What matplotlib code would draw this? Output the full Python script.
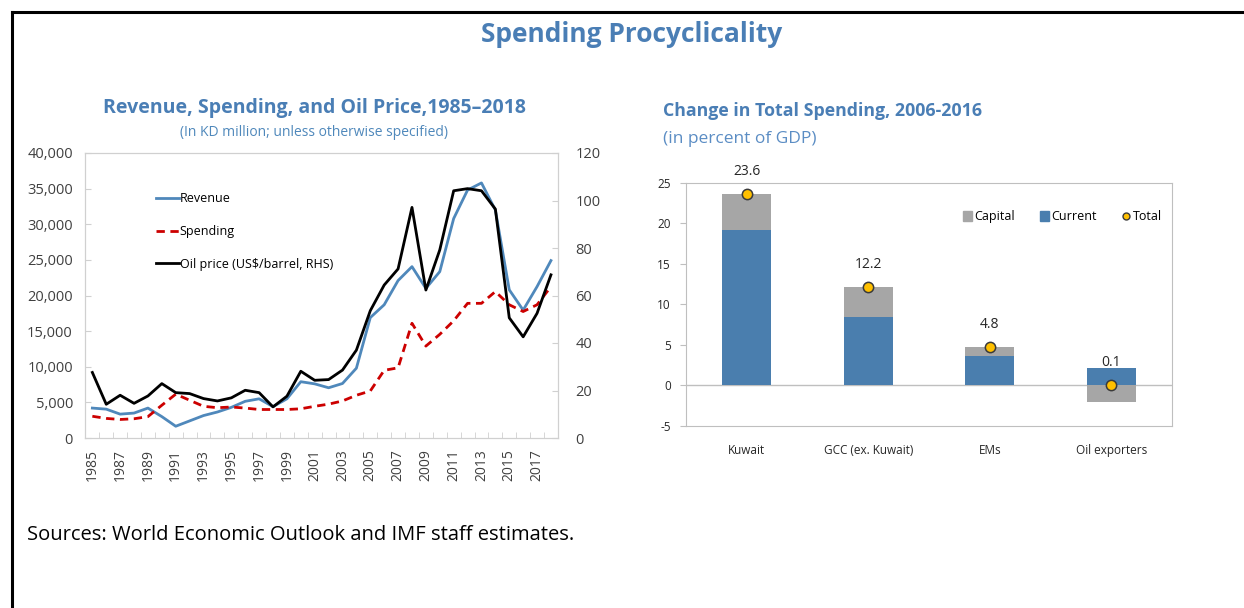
import numpy as np
import matplotlib
matplotlib.use('Agg')
import matplotlib.pyplot as plt
from matplotlib.lines import Line2D
from matplotlib.patches import Patch
from matplotlib.ticker import FuncFormatter

plt.rcParams['font.family'] = ['Open Sans', 'DejaVu Sans']
plt.rcParams['axes.unicode_minus'] = False

# left panel data
years = list(range(1985, 2019))
revenue = [4200, 4050, 3350, 3500, 4200, 3000, 1650, 2400, 3150, 3650,
           4300, 5150, 5500, 4400, 5500, 7900, 7600, 7050, 7650, 9800,
           16900, 18700, 22100, 24050, 21000, 23350, 30800, 34800, 35800, 32000,
           20800, 17950, 21250, 24900]
spending = [3050, 2750, 2600, 2700, 3000, 4600, 6150, 5300, 4450, 4250,
            4350, 4200, 4000, 4000, 4000, 4100, 4450, 4750, 5200, 6000,
            6600, 9500, 9850, 16100, 12900, 14550, 16450, 18900, 18900, 20550,
            18700, 17750, 18700, 21250]
oil_price = [27.6, 14.2, 18.0, 14.6, 17.7, 22.9, 19.1, 18.7, 16.6, 15.6,
             16.9, 20.1, 19.1, 13.1, 17.6, 28.1, 24.3, 24.6, 28.6, 37.0,
             53.6, 64.4, 71.2, 97.1, 62.3, 79.2, 104.1, 105.0, 104.1, 96.4,
             50.6, 42.6, 52.5, 68.7]

# right panel data
regions = ['Kuwait', 'GCC (ex. Kuwait)', 'EMs', 'Oil exporters']
current = [19.2, 8.5, 3.6, 2.2]
capital = [4.4, 3.7, 1.2, -2.1]
total = [23.6, 12.2, 4.8, 0.1]

blue_title = '#4A7EB5'
blue_line = '#4F88BB'
bar_blue = '#4A7EAE'
grey = '#A6A6A6'
red = '#CC0000'
tick_col = '#404040'
spine_col = '#D0D0D0'

fig = plt.figure(figsize=(12.44, 6.08), dpi=100)

# frame around the figure (left and top edges)
fig.add_artist(Line2D([12/1244, 12/1244], [0, 1 - 12/608], transform=fig.transFigure,
                      color='black', lw=2.2, solid_capstyle='projecting'))
fig.add_artist(Line2D([12/1244, 1], [1 - 12/608, 1 - 12/608], transform=fig.transFigure,
                      color='black', lw=2.2, solid_capstyle='projecting'))

fig.text(632/1244, 1 - 35/608, 'Spending Procyclicality', ha='center', va='center',
         fontsize=19, fontweight='bold', color=blue_title)
fig.text(27/1244, 1 - 535/608, 'Sources: World Economic Outlook and IMF staff estimates.',
         ha='left', va='center', fontsize=14.5, color='black')

# ---- left panel
L, R, T, B = 85.4, 557.9, 153, 438
ax = fig.add_axes([L/1244, 1 - B/608, (R - L)/1244, (B - T)/608])
x = np.arange(len(years))
ax.plot(x, revenue, color=blue_line, lw=2.0, label='Revenue', zorder=3)
ax.plot(x, spending, color=red, lw=2.0, ls=(0, (3, 2)), label='Spending', zorder=3)
ax2 = ax.twinx()
ax2.plot(x, oil_price, color='black', lw=2.0, zorder=4)

ax.set_xlim(-0.5, len(years) - 0.5)
ax.set_ylim(0, 40000)
ax.set_yticks(range(0, 40001, 5000))
ax.yaxis.set_major_formatter(FuncFormatter(lambda v, p: f'{int(v):,}'))
ax2.set_ylim(0, 120)
ax2.set_yticks(range(0, 121, 20))

ax.set_xticks(x[::2])
ax.set_xticklabels([str(y) for y in years[::2]], rotation=90)
ax.set_xticks(np.arange(-0.5, len(years), 1), minor=True)
ax.tick_params(axis='x', which='major', length=0, pad=8, labelsize=10, labelcolor=tick_col)
ax.tick_params(axis='x', which='minor', direction='in', length=4, color=spine_col)
ax.tick_params(axis='y', direction='in', length=4, color=spine_col, pad=9,
               labelsize=10.5, labelcolor=tick_col)
ax2.tick_params(axis='y', direction='in', length=4, color=spine_col, pad=12.5,
                labelsize=10.5, labelcolor=tick_col)
for a in (ax, ax2):
    for s in a.spines.values():
        s.set_color(spine_col)

fig.text(314/1244, 1 - 108/608, 'Revenue, Spending, and Oil Price,1985\u20132018',
         ha='center', va='center', fontsize=14, fontweight='bold', color=blue_title)
fig.text(314/1244, 1 - 132/608, '(In KD million; unless otherwise specified)',
         ha='center', va='center', fontsize=10, color=blue_line)

handles = [Line2D([], [], color=blue_line, lw=2.0),
           Line2D([], [], color=red, lw=2.0, ls=(0, (3, 2))),
           Line2D([], [], color='black', lw=2.0)]
ax.legend(handles, ['Revenue', 'Spending', 'Oil price (US$/barrel, RHS)'],
          loc='upper left', bbox_to_anchor=(0.139, 0.88), frameon=False,
          fontsize=9, handlelength=1.8, handletextpad=0.1, labelspacing=1.58,
          borderaxespad=0)

# ---- right panel
L2, R2, T2, B2 = 686, 1172, 182.7, 426
bx = fig.add_axes([L2/1244, 1 - B2/608, (R2 - L2)/1244, (B2 - T2)/608])
pos = np.arange(len(regions))
cur = np.array(current)
cap = np.array(capital)
cap_bottom = np.where(cap >= 0, cur, 0)
bx.bar(pos, cur, width=0.4, color=bar_blue, label='Current', zorder=2)
bx.bar(pos, cap, width=0.4, bottom=cap_bottom, color=grey, label='Capital', zorder=2)
bx.axhline(0, color='#BFBFBF', lw=1, zorder=1)
bx.scatter(pos, total, s=55, color='#FFC000', edgecolor='#3A3A3A', linewidth=1.1,
           zorder=4, label='Total')
for p, t in zip(pos, total):
    bx.annotate(f'{t:.1f}', (p, t), xytext=(0, 16), textcoords='offset points',
                ha='center', va='center', fontsize=10, color='#262626',
                annotation_clip=False)

bx.set_xlim(-0.5, len(regions) - 0.5)
bx.set_ylim(-5, 25)
bx.set_yticks(range(-5, 26, 5))
bx.set_xticks(pos)
bx.set_xticklabels(regions)
bx.tick_params(axis='x', length=0, pad=13, labelsize=8.5, labelcolor='#262626')
bx.tick_params(axis='y', length=4, color='#BFBFBF', pad=7, labelsize=8.5,
               labelcolor='#262626')
for s in bx.spines.values():
    s.set_color('#BFBFBF')

fig.text(663/1244, 1 - 111/608, 'Change in Total Spending, 2006-2016', ha='left',
         va='center', fontsize=12.8, fontweight='bold', color=blue_title)
fig.text(663/1244, 1 - 139/608, '(in percent of GDP)', ha='left', va='center',
         fontsize=12.5, color='#5B8DC4')

leg_handles = [Patch(color=grey), Patch(color=bar_blue),
               Line2D([], [], ls='none', marker='o', markersize=5,
                      markerfacecolor='#FFC000', markeredgecolor='#3A3A3A')]
bx.legend(leg_handles, ['Capital', 'Current', 'Total'], ncol=3, loc='center right',
          bbox_to_anchor=(0.99, 0.86), frameon=False, fontsize=9,
          handlelength=0.7, handleheight=0.9, handletextpad=0.2, columnspacing=2.0,
          borderaxespad=0)

fig.savefig('out.png', dpi=100)
